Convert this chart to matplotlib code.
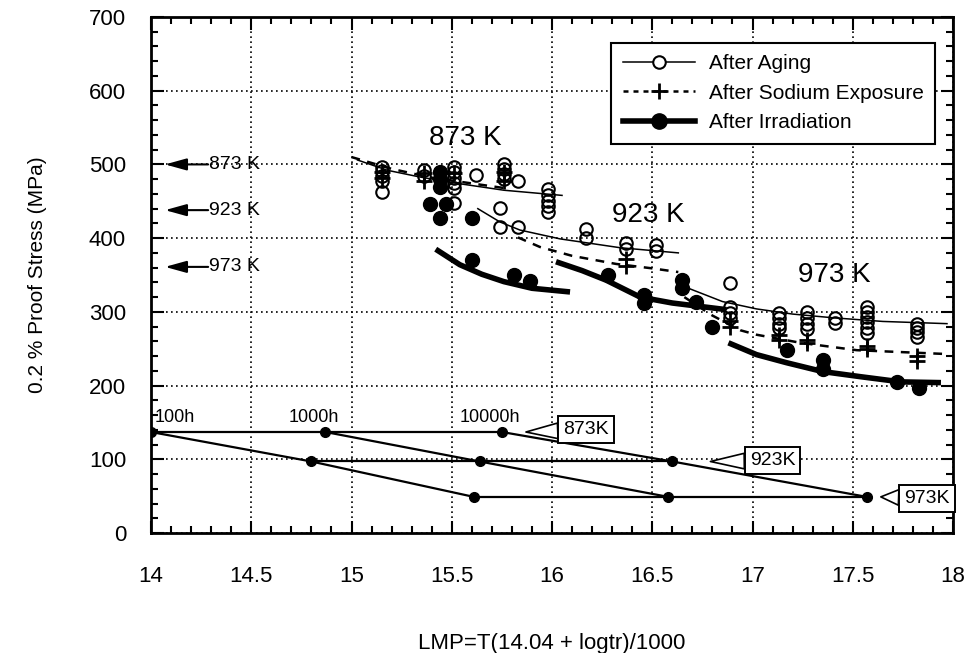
import numpy as np
import matplotlib
matplotlib.use('Agg')
import matplotlib.pyplot as plt
from matplotlib.lines import Line2D
from matplotlib.ticker import MultipleLocator, FormatStrFormatter

plt.rcParams['font.family'] = ['Liberation Sans', 'DejaVu Sans']

# --- measured points (LMP, 0.2% proof stress MPa) ---
aging_x = [15.15, 15.15, 15.15, 15.15, 15.15, 15.36, 15.36,
           15.51, 15.51, 15.51, 15.51, 15.51, 15.51, 15.62,
           15.76, 15.76, 15.76, 15.76, 15.83,
           15.98, 15.98, 15.98, 15.98, 15.98, 15.74, 15.74, 15.83,
           16.17, 16.17, 16.37, 16.37, 16.52, 16.52,
           16.89, 16.89, 16.89, 16.89,
           17.13, 17.13, 17.13, 17.13, 17.27, 17.27, 17.27, 17.27,
           17.41, 17.41, 17.57, 17.57, 17.57, 17.57, 17.57, 17.57,
           17.82, 17.82, 17.82, 17.82]
aging_y = [497, 491, 484, 478, 463, 493, 484,
           497, 490, 482, 475, 468, 448, 486,
           501, 494, 487, 480, 478,
           466, 459, 451, 444, 436, 441, 415, 415,
           413, 400, 393, 385, 391, 382,
           339, 307, 299, 291,
           298, 291, 284, 278, 300, 292, 284, 277,
           292, 285, 307, 300, 293, 286, 278, 271,
           284, 278, 272, 266]

sodium_x = [15.15, 15.15, 15.36, 15.36, 15.51, 15.76, 15.76,
            16.37, 16.37, 16.89, 16.89, 17.13, 17.13, 17.27, 17.27,
            17.57, 17.57, 17.82, 17.82]
sodium_y = [490, 481, 489, 478, 488, 490, 478,
            372, 362, 288, 279, 268, 262, 262, 258,
            254, 249, 240, 234]

irrad_x = [15.44, 15.44, 15.44, 15.39, 15.47, 15.44, 15.60,
           15.60, 15.81, 15.89,
           16.28, 16.46, 16.46, 16.65, 16.65, 16.72, 16.80,
           17.17, 17.35, 17.35, 17.72, 17.83]
irrad_y = [490, 480, 470, 446, 446, 427, 427,
           370, 350, 342,
           350, 323, 312, 343, 332, 314, 280,
           248, 235, 223, 205, 197]

# --- trend curves ---
aging_873_x = [15.03, 15.18, 15.34, 15.51, 15.76, 16.05]
aging_873_y = [506, 492, 483, 475, 465, 458]
aging_923_x = [15.63, 15.74, 15.84, 16.04, 16.34, 16.63]
aging_923_y = [440, 422, 411, 399, 387, 380]
aging_973_x = [16.69, 16.85, 17.02, 17.2, 17.4, 17.65, 17.97]
aging_973_y = [331, 314, 304, 297, 292, 287, 284]

sodium_873_x = [15.0, 15.2, 15.4, 15.76]
sodium_873_y = [510, 494, 482, 468]
sodium_923_x = [15.83, 15.94, 16.1, 16.32, 16.5, 16.63]
sodium_923_y = [401, 388, 376, 365, 359, 354]
sodium_973_x = [16.66, 16.8, 16.94, 17.02, 17.24, 17.52, 17.95]
sodium_973_y = [320, 295, 275, 269, 258, 248, 243]

irrad_873_x = [15.42, 15.54, 15.65, 15.76, 15.9, 16.09]
irrad_873_y = [385, 364, 351, 341, 332, 327]
irrad_923_x = [16.02, 16.15, 16.27, 16.44, 16.6, 16.87]
irrad_923_y = [368, 356, 343, 320, 312, 303]
irrad_973_x = [16.88, 17.02, 17.17, 17.35, 17.54, 17.74, 17.94]
irrad_973_y = [258, 242, 231, 219, 212, 205, 204]

# --- LMP nomograph (100h, 1000h, 10000h) ---
nomo_hours = ['100h', '1000h', '10000h']
nomo_temps = ['873K', '923K', '973K']
nomo_stress = [137, 97, 49]
nomo_lmp = [[14.0, 14.87, 15.75],
            [14.80, 15.64, 16.60],
            [15.61, 16.58, 17.57]]

# strength of base metal (arrows on the left)
base_temps = ['873 K', '923 K', '973 K']
base_stress = [500, 438, 361]

fig = plt.figure(figsize=(9.71, 6.53), dpi=100)
ax = fig.add_axes([151 / 971, 1 - 533 / 653, 802 / 971, 516 / 653])

ax.set_xlim(14, 18)
ax.set_ylim(0, 700)
ax.xaxis.set_major_locator(MultipleLocator(0.5))
ax.xaxis.set_minor_locator(MultipleLocator(0.1))
ax.yaxis.set_major_locator(MultipleLocator(100))
ax.yaxis.set_minor_locator(MultipleLocator(20))
ax.xaxis.set_major_formatter(FormatStrFormatter('%g'))
ax.tick_params(which='both', direction='in', top=True, right=True, width=1.5)
ax.tick_params(which='major', length=9, labelsize=16)
ax.tick_params(which='minor', length=5)
ax.tick_params(axis='x', pad=24)
ax.tick_params(axis='y', pad=18)
for sp in ax.spines.values():
    sp.set_linewidth(2)
ax.grid(True, which='major', color='black', linestyle=(0, (1, 2)), linewidth=1.2)
ax.set_axisbelow(True)

# curves
for cx, cy in [(aging_873_x, aging_873_y), (aging_923_x, aging_923_y), (aging_973_x, aging_973_y)]:
    ax.plot(cx, cy, color='black', lw=1.1)
for cx, cy in [(sodium_873_x, sodium_873_y), (sodium_923_x, sodium_923_y), (sodium_973_x, sodium_973_y)]:
    ax.plot(cx, cy, color='black', lw=1.8, linestyle=(0, (3.5, 3)))
for cx, cy in [(irrad_873_x, irrad_873_y), (irrad_923_x, irrad_923_y), (irrad_973_x, irrad_973_y)]:
    ax.plot(cx, cy, color='black', lw=4, solid_capstyle='butt')

# points
ax.plot(aging_x, aging_y, 'o', mfc='none', mec='black', ms=9, mew=1.5)
ax.plot(sodium_x, sodium_y, '+', color='black', ms=11, mew=2)
ax.plot(irrad_x, irrad_y, 'o', color='black', ms=10)

# nomograph
for s, lmp in zip(nomo_stress, nomo_lmp):
    ax.plot(lmp, [s] * len(lmp), '-o', color='black', lw=1.6, ms=7)
for i in range(len(nomo_hours)):
    ax.plot([row[i] for row in nomo_lmp], nomo_stress, '-', color='black', lw=1.6)
ax.text(14.02, 157, nomo_hours[0], fontsize=13, ha='left', va='center')
ax.text(14.81, 157, nomo_hours[1], fontsize=13, ha='center', va='center')
ax.text(15.69, 157, nomo_hours[2], fontsize=13, ha='center', va='center')

tips = [(15.87, nomo_stress[0]), (16.79, nomo_stress[1]), (17.64, nomo_stress[2])]
boxes = [(16.17, 140), (17.10, 98), (17.87, 47)]
for t, tip, box in zip(nomo_temps, tips, boxes):
    ax.annotate(t, xy=tip, xytext=box, fontsize=14, ha='center', va='center',
                annotation_clip=False, zorder=5,
                bbox=dict(boxstyle='square,pad=0.25', fc='white', ec='black', lw=1.4),
                arrowprops=dict(arrowstyle='wedge,tail_width=0.8', fc='white', ec='black',
                                lw=1.2, shrinkA=0, shrinkB=0))

# base metal arrows
for t, s in zip(base_temps, base_stress):
    ax.annotate('', xy=(14.07, s), xytext=(14.285, s),
                arrowprops=dict(arrowstyle='-|>,head_length=1.3,head_width=0.36',
                                color='black', lw=1.5, shrinkA=0, shrinkB=0))
    ax.text(14.29, s, t, fontsize=14, ha='left', va='center')

# temperature labels
ax.text(15.57, 536, '873 K', fontsize=20, ha='center', va='center')
ax.text(16.48, 431, '923 K', fontsize=20, ha='center', va='center')
ax.text(17.41, 350, '973 K', fontsize=20, ha='center', va='center')

handles = [
    Line2D([], [], color='black', lw=1.1, marker='o', mfc='white', mec='black', ms=9, mew=1.5),
    Line2D([], [], color='black', lw=1.8, linestyle=(0, (2, 2)), marker='+', ms=12, mew=2),
    Line2D([], [], color='black', lw=4, marker='o', ms=11),
]
leg = ax.legend(handles, ['After Aging', 'After Sodium Exposure', 'After Irradiation'],
                loc='upper right', bbox_to_anchor=(0.978, 0.950), borderaxespad=0,
                fontsize=15, handlelength=3.5, handletextpad=0.65, labelspacing=0.5,
                borderpad=0.55, fancybox=False, framealpha=1, edgecolor='black')
leg.get_frame().set_linewidth(1.5)

fig.text(38 / 971, 1 - 275 / 653, '0.2 % Proof Stress (MPa)', fontsize=15,
         rotation=90, ha='center', va='center')
fig.text(552 / 971, 1 - 643 / 653, 'LMP=T(14.04 + logtr)/1000', fontsize=16,
         ha='center', va='center')

plt.savefig('out.png', dpi=100)
